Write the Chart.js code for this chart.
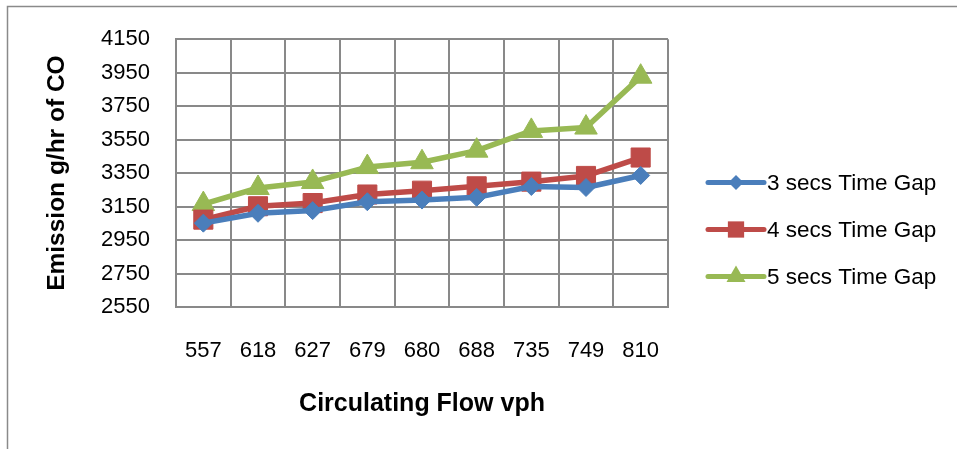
<!DOCTYPE html>
<html>
<head>
<meta charset="utf-8">
<script src="https://cdn.jsdelivr.net/npm/chart.js@4.4.0/dist/chart.umd.min.js"></script>
<style>
  html, body { margin: 0; padding: 0; background: #fff; }
  canvas { display: block; }
</style>
</head>
<body>
<canvas id="chart" width="957" height="449"></canvas>
<script>
// Circulating flow (vph) on the x axis
const flows = ['557', '618', '627', '679', '680', '688', '735', '749', '810'];

// CO emission (g/hr) for each critical time gap
const gap3 = [3051, 3110, 3126, 3179, 3189, 3205, 3270, 3264, 3336];
const gap4 = [3072, 3152, 3171, 3222, 3245, 3271, 3299, 3333, 3443];
const gap5 = [3165, 3261, 3297, 3386, 3415, 3484, 3602, 3622, 3926];

const seriesNames = ['3 secs Time Gap', '4 secs Time Gap', '5 secs Time Gap'];

// y axis range
const yMin = 2550;
const yMax = 4150;
const yStep = 200;

const FONT = "'Liberation Sans', Arial, sans-serif";
const GRID = '#898989';

const styles = [
  { color: '#4a7ebb', point: 'rectRot', radius: 9, legendRadius: 7.5 },
  { color: '#be4b48', point: 'rect', radius: 13.5, legendRadius: 11.5 },
  { color: '#98b954', point: 'triangle', radius: 13, legendRadius: 11 }
];

function makeDataset(label, data, s) {
  return {
    label: label,
    data: data,
    borderColor: s.color,
    backgroundColor: s.color,
    borderWidth: 5.5,
    borderJoinStyle: 'round',
    borderCapStyle: 'round',
    tension: 0,
    pointStyle: s.point,
    pointRadius: s.radius,
    pointHoverRadius: s.radius,
    pointBackgroundColor: s.color,
    pointBorderColor: s.color,
    pointBorderWidth: 1
  };
}

// Marker shapes for the legend keys
function drawMarker(ctx, shape, x, y, r) {
  ctx.beginPath();
  if (shape === 'rect') {
    const h = Math.SQRT1_2 * r;
    ctx.rect(x - h, y - h, 2 * h, 2 * h);
  } else if (shape === 'rectRot') {
    ctx.moveTo(x, y - r);
    ctx.lineTo(x + r, y);
    ctx.lineTo(x, y + r);
    ctx.lineTo(x - r, y);
    ctx.closePath();
  } else {
    const a = -Math.PI / 2;
    for (let i = 0; i < 3; i++) {
      const ang = a + i * 2 * Math.PI / 3;
      const px = x + Math.cos(ang) * r;
      const py = y + Math.sin(ang) * r;
      if (i === 0) ctx.moveTo(px, py); else ctx.lineTo(px, py);
    }
    ctx.closePath();
  }
  ctx.fill();
}

// Outer frame of the chart object
const framePlugin = {
  id: 'frame',
  beforeDraw(chart) {
    const ctx = chart.ctx;
    ctx.save();
    ctx.fillStyle = '#ffffff';
    ctx.fillRect(0, 0, chart.width, chart.height);
    ctx.strokeStyle = '#8a8a8a';
    ctx.lineWidth = 1.5;
    ctx.beginPath();
    ctx.moveTo(7.5, chart.height + 2);
    ctx.lineTo(7.5, 6.5);
    ctx.lineTo(chart.width + 2, 6.5);
    ctx.stroke();
    ctx.restore();
  }
};

// Legend on the right: line key with marker, then series name
const sideLegend = {
  id: 'sideLegend',
  afterDraw(chart) {
    const ctx = chart.ctx;
    const area = chart.chartArea;
    const x0 = area.right + 40;
    const keyLen = 56;
    const gap = 47;
    const yc = chart.height / 2 + 5;
    ctx.save();
    chart.data.datasets.forEach((ds, i) => {
      const s = styles[i];
      const y = yc + (i - 1) * gap;
      ctx.strokeStyle = s.color;
      ctx.fillStyle = s.color;
      ctx.lineWidth = 5;
      ctx.lineCap = 'round';
      ctx.beginPath();
      ctx.moveTo(x0, y);
      ctx.lineTo(x0 + keyLen, y);
      ctx.stroke();
      drawMarker(ctx, s.point, x0 + keyLen / 2, y, s.legendRadius);
      ctx.fillStyle = '#000';
      ctx.font = '22.5px ' + FONT;
      ctx.textAlign = 'left';
      ctx.textBaseline = 'middle';
      ctx.fillText(ds.label, x0 + keyLen + 3, y + 1);
    });
    ctx.restore();
  }
};

new Chart(document.getElementById('chart'), {
  type: 'line',
  data: {
    labels: flows,
    datasets: [
      makeDataset(seriesNames[0], gap3, styles[0]),
      makeDataset(seriesNames[1], gap4, styles[1]),
      makeDataset(seriesNames[2], gap5, styles[2])
    ]
  },
  options: {
    responsive: false,
    animation: false,
    layout: { padding: { left: 40, right: 289, top: 35, bottom: 30 } },
    plugins: {
      legend: { display: false },
      tooltip: { enabled: false }
    },
    scales: {
      x: {
        type: 'category',
        offset: true,
        grid: { offset: true, color: GRID, lineWidth: 2, drawTicks: false },
        border: { color: GRID, width: 2 },
        ticks: { color: '#000', padding: 31, font: { family: FONT, size: 22 } },
        title: {
          display: true,
          text: 'Circulating Flow vph',
          color: '#000',
          padding: 0,
          font: { family: FONT, size: 25, weight: 'bold' }
        },
        afterFit(scale) { scale.height = 112; }
      },
      y: {
        min: yMin,
        max: yMax,
        grid: { color: GRID, lineWidth: 2, drawTicks: false },
        border: { color: GRID, width: 2 },
        ticks: {
          stepSize: yStep,
          color: '#000',
          padding: 26,
          font: { family: FONT, size: 22 },
          callback: (v) => String(v)
        },
        title: {
          display: true,
          text: 'Emission g/hr of CO',
          color: '#000',
          padding: { top: 3, bottom: 0 },
          font: { family: FONT, size: 24.5, weight: 'bold' }
        },
        afterFit(scale) { scale.width = 136; }
      }
    }
  },
  plugins: [framePlugin, sideLegend]
});
</script>
</body>
</html>
